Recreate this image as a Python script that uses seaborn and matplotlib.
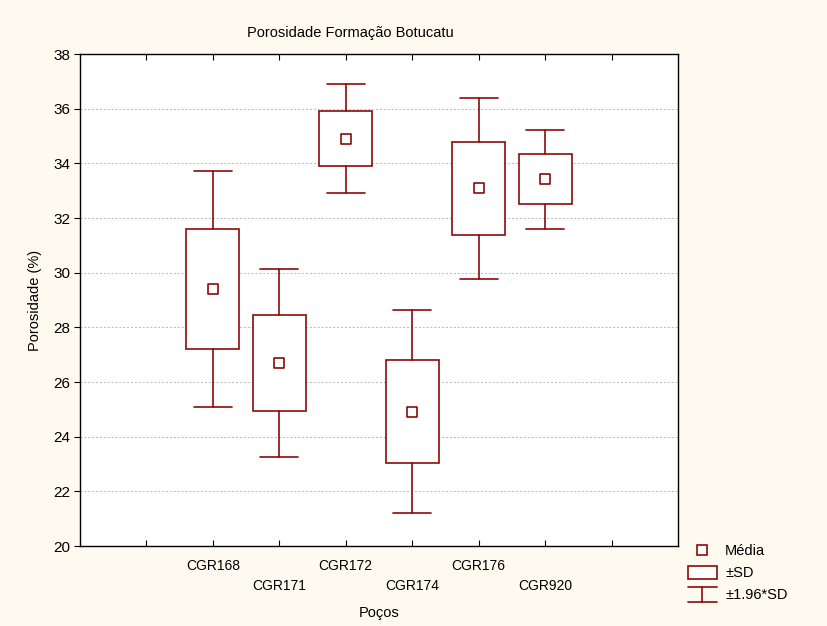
import numpy as np
import matplotlib
matplotlib.use("Agg")
import matplotlib.pyplot as plt
import seaborn as sns
from matplotlib.lines import Line2D
from matplotlib.patches import Rectangle
from matplotlib.legend_handler import HandlerBase

# Dados
pocos = ["CGR168", "CGR171", "CGR172", "CGR174", "CGR176", "CGR920"]
medias = [29.40, 26.70, 34.90, 24.92, 33.08, 33.42]
desvios = [2.20, 1.755, 1.015, 1.89, 1.69, 0.925]

COR = "#8B0A0A"
FUNDO = "#FFFAF0"


class HandlerWhisker(HandlerBase):
    """Símbolo ±1.96*SD : traço superior, haste e traço inferior."""

    def create_artists(self, legend, orig_handle, xdescent, ydescent,
                       width, height, fontsize, trans):
        cx = width / 2 - xdescent
        y0, y1 = -ydescent - 0.15 * height, -ydescent + 1.0 * height
        topo = Line2D([-xdescent, width - xdescent], [y1, y1], color=COR, lw=1.2, transform=trans)
        base = Line2D([-xdescent, width - xdescent], [y0, y0], color=COR, lw=1.2, transform=trans)
        haste = Line2D([cx, cx], [y0, y1], color=COR, lw=1.2, transform=trans)
        return [topo, base, haste]


sns.set_theme(style="white")
plt.rcParams["font.family"] = ["Liberation Sans", "DejaVu Sans"]
plt.rcParams.update({"text.color": "black", "axes.labelcolor": "black",
                     "xtick.color": "black", "ytick.color": "black"})

fig = plt.figure(figsize=(8.27, 6.26), dpi=100, facecolor=FUNDO)
ax = fig.add_axes([80 / 827, 1 - 546 / 626, 598 / 827, 492 / 626])
ax.set_facecolor("white")

pos = np.arange(len(pocos))
stats = []
for nome, m, s in zip(pocos, medias, desvios):
    stats.append({
        "label": nome, "med": m,
        "q1": m - s, "q3": m + s,
        "whislo": m - 1.96 * s, "whishi": m + 1.96 * s,
        "fliers": [],
    })

ax.bxp(stats, positions=pos, widths=0.8, capwidths=0.57, patch_artist=True,
       boxprops=dict(facecolor="white", edgecolor=COR, linewidth=1.2),
       whiskerprops=dict(color=COR, linewidth=1.2),
       capprops=dict(color=COR, linewidth=1.2),
       medianprops=dict(visible=False), showfliers=False, zorder=3)

sns.scatterplot(x=pos, y=medias, marker="s", s=45, facecolor="white",
                edgecolor=COR, linewidth=1.2, ax=ax, zorder=4, legend=False)

ax.set_xlim(-2, 7)
ax.set_ylim(20, 38)
ax.set_yticks(np.arange(20, 39, 2))
ax.yaxis.grid(True, color="#b8b8b8", linestyle=(0, (2, 2)), linewidth=0.7)
ax.set_axisbelow(True)

xt = np.arange(-1, 7)
rotulos = [""] + [p if i % 2 == 0 else "\n" + p for i, p in enumerate(pocos)] + [""]
ax.set_xticks(xt)
ax.set_xticklabels(rotulos, fontsize=10)
for lbl in ax.get_xticklabels():
    lbl.set_linespacing(1.55)
ax.tick_params(axis="x", direction="in", length=4, width=0.8, top=True, bottom=True,
               pad=9, colors="black")
ax.tick_params(axis="y", direction="out", length=4, width=0.8, left=True,
               labelsize=11, pad=3, colors="black")

for sp in ax.spines.values():
    sp.set_color("black")
    sp.set_linewidth(1.0)

ax.set_ylabel("Porosidade (%)", fontsize=10.5, labelpad=8)
ax.set_xlabel("Poços", fontsize=10.5, labelpad=10)
fig.text(350 / 827, 1 - 33 / 626, "Porosidade Formação Botucatu", ha="center",
         va="center", fontsize=10.5, color="black")

h_media = Line2D([], [], marker="s", linestyle="none", markersize=6.5,
                 markerfacecolor="white", markeredgecolor=COR, markeredgewidth=1.2)
h_sd = Rectangle((0, 0), 1, 1, facecolor="white", edgecolor=COR, linewidth=1.2)
h_196 = Line2D([], [])
fig.legend([h_media, h_sd, h_196], ["Média", "±SD", "±1.96*SD"],
           handler_map={h_196: HandlerWhisker()},
           loc="upper left", bbox_to_anchor=(682 / 827, 1 - 538 / 626),
           frameon=False, fontsize=10.5, handlelength=2.0, handleheight=1.0,
           handletextpad=0.55, labelspacing=0.5, borderaxespad=0)

fig.savefig("out.png", dpi=100, facecolor=FUNDO)
